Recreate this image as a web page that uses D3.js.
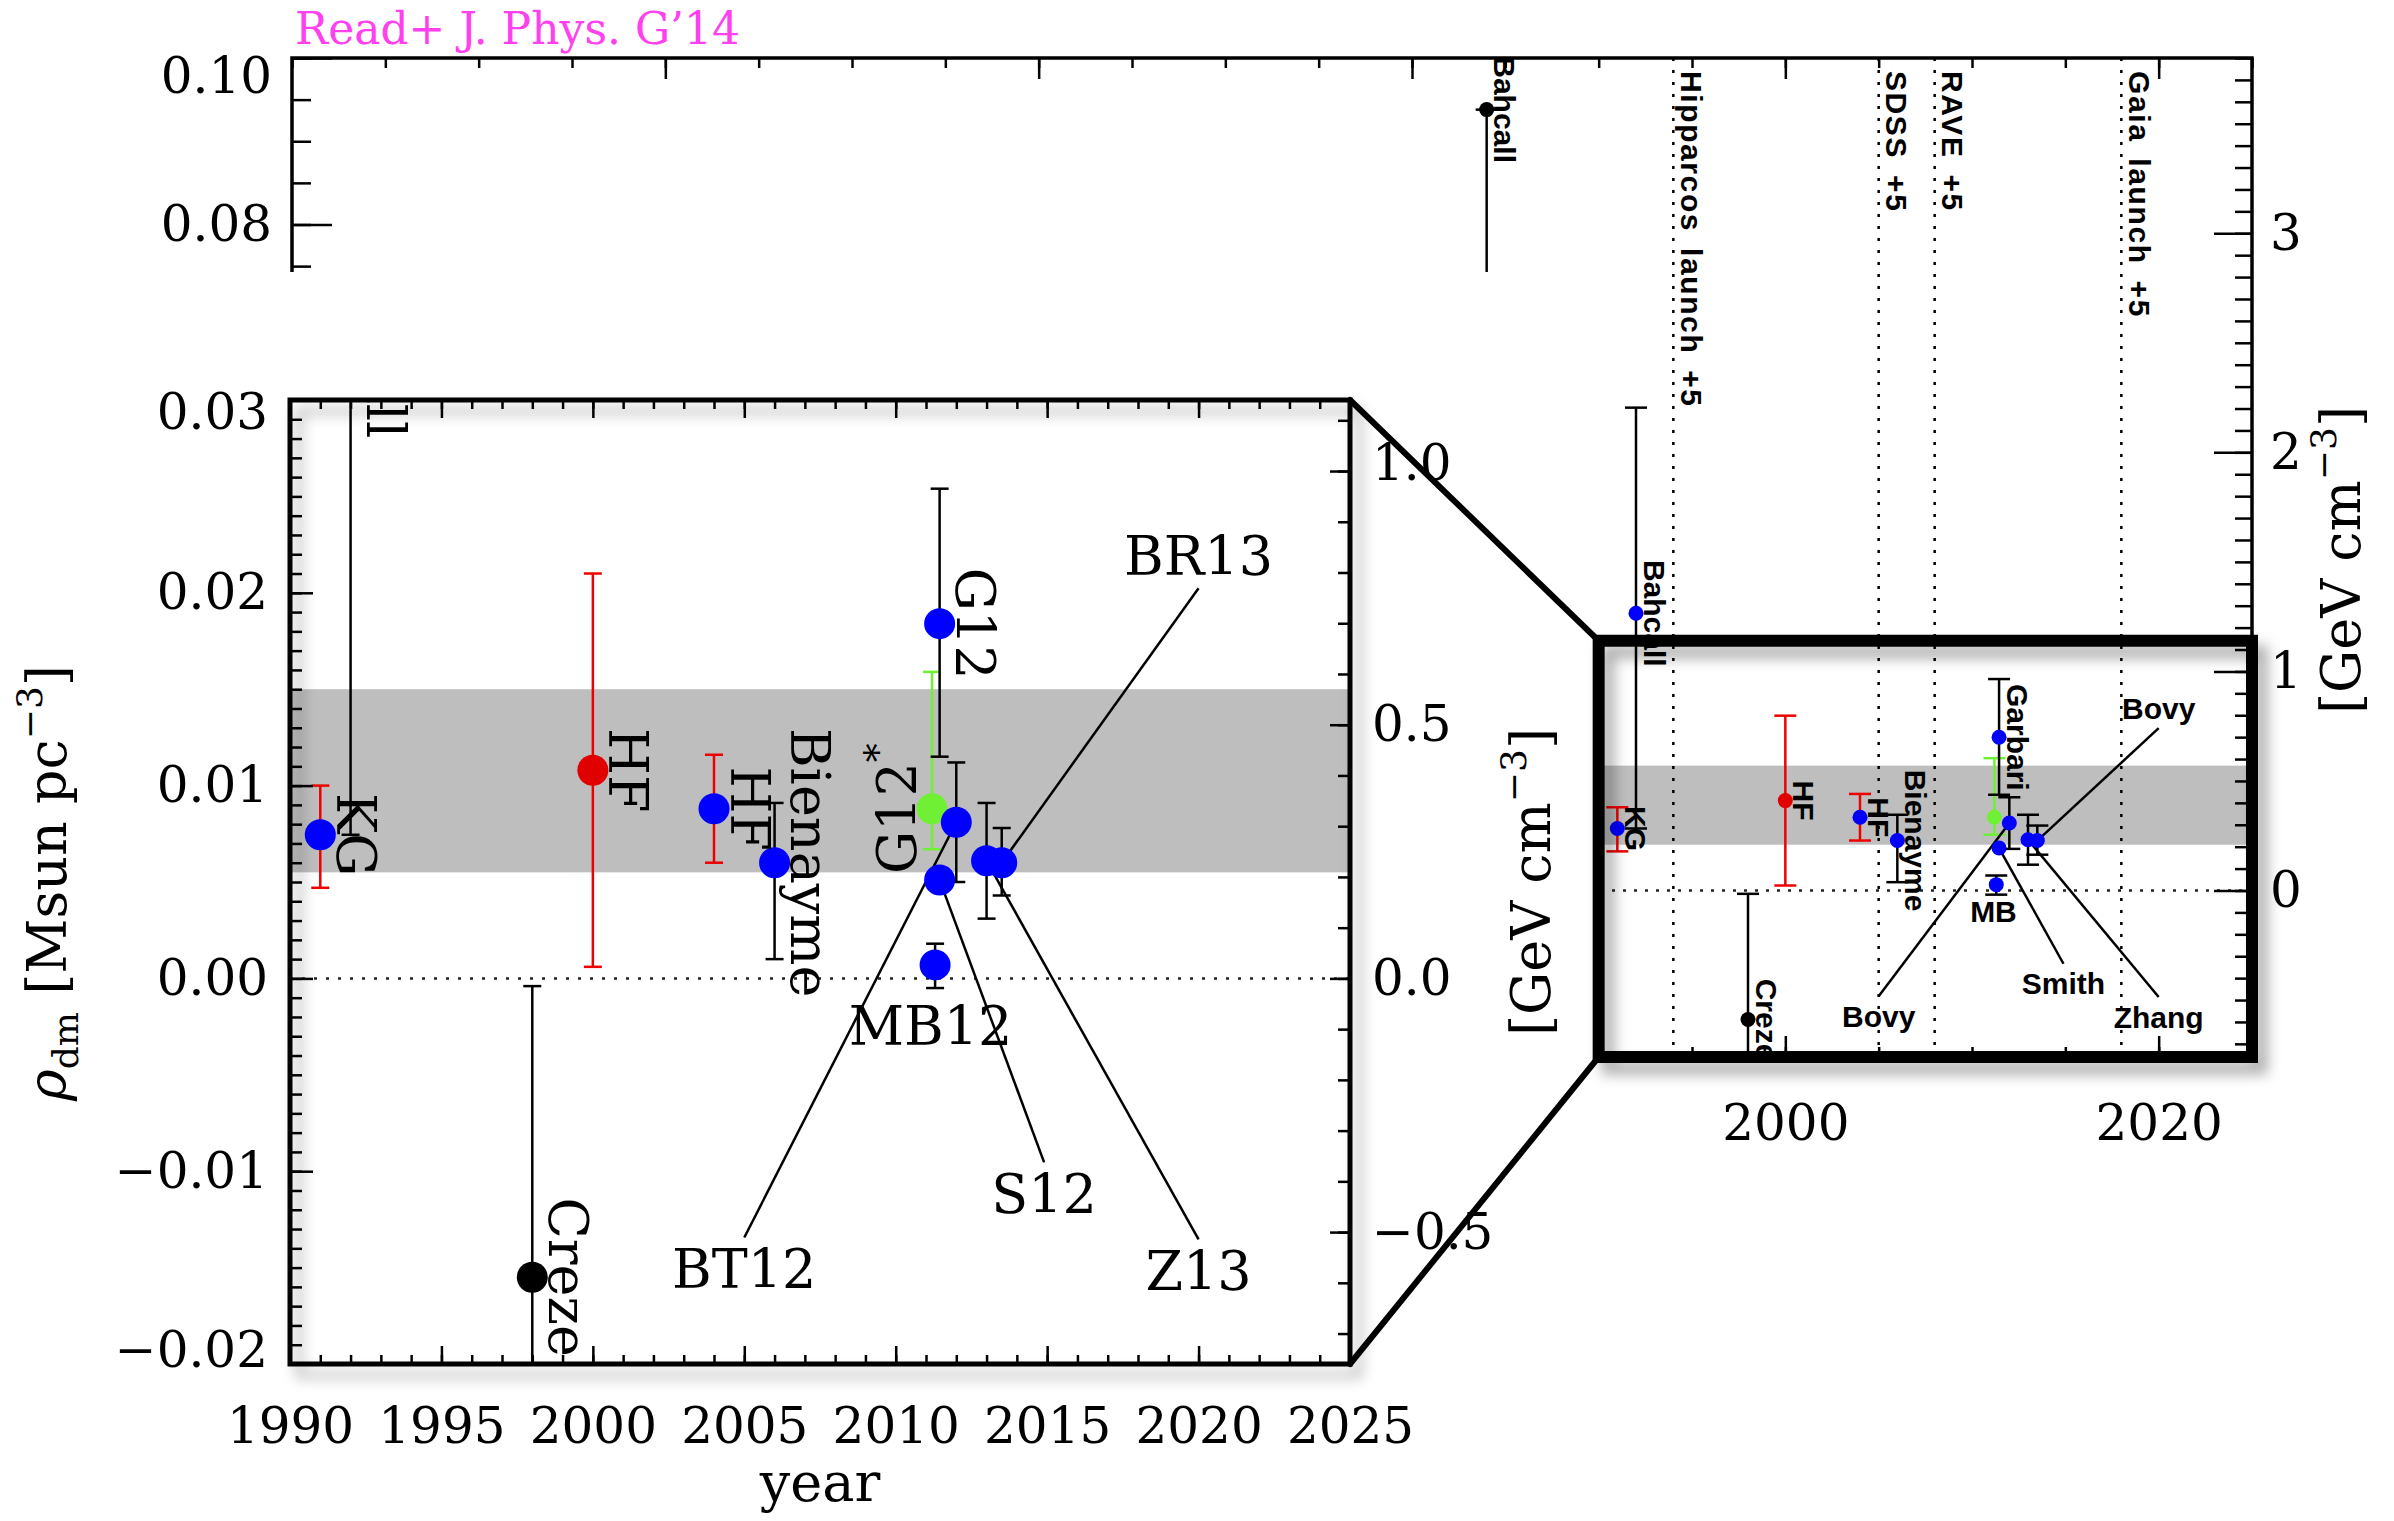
<!DOCTYPE html>
<html>
<head>
<meta charset="utf-8">
<script src="https://cdn.jsdelivr.net/npm/d3@7"></script>
<style>
  body { margin: 0; background: #fff; }
  svg { display: block; }
</style>
</head>
<body>
<div id="container"></div>
<script>
// local dark matter density measurements, Msun pc^-3
let names  = ["Bahcall84","KG","Bahcall92","Creze","HF00","HF04","Bienayme","G12star","G12","MB12","S12","BT12","Z13","BR13"];
let years  = [1984, 1991, 1992, 1998, 2000, 2004, 2006, 2011.2, 2011.45, 2011.3, 2011.45, 2012, 2013, 2013.5];
let rho    = [0.0938, 0.00745, 0.0333, -0.0155, 0.0108, 0.0088, 0.0060, 0.0088, 0.0184, 0.0007, 0.0051, 0.0081, 0.0061, 0.0060];
let rhoLo  = [0.060, 0.0047, 0.00745, -0.030, 0.0006, 0.0060, 0.0010, 0.0067, 0.0115, -0.0005, null, 0.0050, 0.0031, 0.0043];
let rhoHi  = [0.0938, 0.0100, 0.058, -0.0004, 0.0210, 0.0116, 0.0091, 0.0159, 0.0254, 0.0018, null, 0.0112, 0.0091, 0.0078];
let dotCol = ["#000","#0000ff","#0000ff","#000","#e00000","#0000ff","#0000ff","#70f034","#0000ff","#0000ff","#0000ff","#0000ff","#0000ff","#0000ff"];
let barCol = ["#000","#ee0000","#000","#000","#ee0000","#ee0000","#000","#70f034","#000","#000",null,"#000","#000","#000"];

// labels written next to the points (rotated), zoomed panel / small inset
let tagInner = [null,"KG","Bahcall","Creze","HF","HF","Bienayme","G12","G12",null,null,null,null,null];
let tagOuter = ["Bahcall","KG","Bahcall","Creze","HF","HF","Bienayme",null,"Garbari",null,null,null,null,null];
let tagSide  = ["r","r","r","r","r","r","r","l","r","r","r","r","r","r"];

// free standing labels (year, rho) with the point they point at
let freeInner = ["BR13","BT12","S12","Z13","MB12"];
let freeOuter = ["Bovy","Bovy","Smith","Zhang","MB"];
let freeYear  = [2020.0, 2005.0, 2014.9, 2020.0, 2011.15];
let freeRho   = [0.0219, -0.0151, -0.0112, -0.0152, -0.0025];
let freeTo    = ["BR13","BT12","S12","Z13",null];

// survey epochs
let surveyNames = ["Hipparcos launch +5","SDSS +5","RAVE +5","Gaia launch +5"];
let surveyYears = [1994, 2005, 2008, 2018];

// shaded band
let band = [0.0055, 0.0150];
let gevPerMsun = 38.0;

let serif = "'DejaVu Serif', serif";
let sans = "'Liberation Sans', Arial, sans-serif";

let w = 2394, h = 1521;
let svg = d3.select("#container").append("svg").attr("width", w).attr("height", h);

let defs = svg.append("defs");
let f1 = defs.append("filter").attr("id","shadow").attr("x","-10%").attr("y","-10%").attr("width","130%").attr("height","130%");
f1.append("feDropShadow").attr("dx",9).attr("dy",11).attr("stdDeviation",7).attr("flood-color","#000").attr("flood-opacity",0.35);

// scales
let xOut = d3.scaleLinear().domain([1920, 2025]).range([292, 2252]);
let yOut = d3.scaleLinear().domain([-0.02, 0.10]).range([1057, 58]);
let xIn = d3.scaleLinear().domain([1990, 2025]).range([290, 1350]);
let yIn = d3.scaleLinear().domain([-0.02, 0.03]).range([1364, 400]);

defs.append("clipPath").attr("id","clipOut").append("rect")
  .attr("x",xOut.range()[0]).attr("y",yOut.range()[1])
  .attr("width",xOut.range()[1]-xOut.range()[0]).attr("height",yOut.range()[0]-yOut.range()[1]);
defs.append("clipPath").attr("id","clipIn").append("rect")
  .attr("x",xIn.range()[0]).attr("y",yIn.range()[1])
  .attr("width",xIn.range()[1]-xIn.range()[0]).attr("height",yIn.range()[0]-yIn.range()[1]);

// inward ticks; labelled only when a format is given
function inward(g, axisFn, scale, values, len, fmt, pad, labelled) {
  let ax = axisFn(scale).tickValues(values).tickSize(-len).tickPadding(pad || 0).tickFormat(fmt || (() => ""));
  g.call(ax);
  g.select(".domain").remove();
  g.attr("font-family", serif).attr("font-size", 50);
  g.selectAll("line").attr("stroke","#000").attr("stroke-width",2.5);
  g.selectAll("text").attr("fill","#000");
  g.selectAll(".tick").filter(d => !fmt || (labelled && labelled.indexOf(d) < 0)).select("text").remove();
  return g;
}
function nudge(g, value, dy) {
  g.selectAll(".tick").filter(d => Math.abs(d - value) < 1e-9).select("text").attr("y", dy);
}

function gevScale(y) {
  return d3.scaleLinear().domain(y.domain().map(v => v * gevPerMsun)).range(y.range());
}

// draws all data marks in one panel
function drawPanel(g, x, y, o) {
  let x0 = x.range()[0], x1 = x.range()[1];
  g.append("rect").attr("x",x0).attr("width",x1-x0)
    .attr("y",y(band[1])).attr("height",y(band[0])-y(band[1])).attr("fill","#bebebe");
  g.append("line").attr("x1",x0).attr("x2",x1).attr("y1",y(0)).attr("y2",y(0))
    .attr("stroke","#222").attr("stroke-width",2.5).attr("stroke-dasharray",o.dash);
  (o.surveys || []).forEach((s, i) => {
    let sx = x(surveyYears[i]);
    g.append("line").attr("x1",sx).attr("x2",sx).attr("y1",y.range()[1]).attr("y2",y.range()[0])
      .attr("stroke","#000").attr("stroke-width",2.5).attr("stroke-dasharray","3,9");
    g.append("text").attr("transform",`translate(${sx+18},${y.range()[1]+13}) rotate(90)`)
      .attr("dominant-baseline","central").attr("font-family",sans).attr("font-weight","bold")
      .attr("font-size",30).attr("letter-spacing",1.6).attr("word-spacing",6).text(s);
  });
  // error bars
  names.forEach((n, i) => {
    if (rhoLo[i] == null) return;
    let px = x(years[i]);
    let eg = g.append("g").attr("stroke",barCol[i]).attr("stroke-width",o.sw);
    eg.append("line").attr("x1",px).attr("x2",px).attr("y1",y(rhoLo[i])).attr("y2",y(rhoHi[i]));
    [rhoLo[i], rhoHi[i]].forEach(v => {
      eg.append("line").attr("x1",px-o.cap).attr("x2",px+o.cap).attr("y1",y(v)).attr("y2",y(v));
    });
  });
  // leader lines
  freeTo.forEach((t, k) => {
    if (!t) return;
    let i = names.indexOf(t);
    let lx = x(freeYear[k]), ly = y(freeRho[k]);
    let py = y(rho[i]);
    let off = (py < ly ? -1 : 1) * o.lead;
    g.append("line").attr("x1",lx).attr("y1",ly+off).attr("x2",x(years[i])).attr("y2",py)
      .attr("stroke","#000").attr("stroke-width",o.sw);
  });
  // points
  g.selectAll("circle.pt").data(names).enter().append("circle").attr("class","pt")
    .attr("cx",(d,i) => x(years[i])).attr("cy",(d,i) => y(rho[i]))
    .attr("r",o.r).attr("fill",(d,i) => dotCol[i]);
  // rotated tags
  o.tags.forEach((t, i) => {
    if (!t) return;
    let px = x(years[i]), py = y(rho[i]);
    let side = tagSide[i] == "l" ? -1 : 1;
    let txt = g.append("text")
      .attr("transform",`translate(${px+side*o.dx},${py}) rotate(${side*90})`)
      .attr("text-anchor","middle").attr("dominant-baseline","central")
      .attr("font-family",o.font).attr("font-weight",o.weight).attr("font-size",o.fsize).text(t);
    if (names[i] == "G12star") txt.append("tspan").attr("dy",-o.fsize*0.35).attr("font-size",o.fsize*0.7).text("*");
  });
  // free labels
  o.free.forEach((t, k) => {
    g.append("text").attr("x",x(freeYear[k])).attr("y",y(freeRho[k]))
      .attr("text-anchor","middle").attr("dominant-baseline","central")
      .attr("font-family",o.font).attr("font-weight",o.weight).attr("font-size",o.fsize).text(t);
  });
}

// ---------- big outer panel ----------
let outG = svg.append("g").attr("clip-path","url(#clipOut)");
drawPanel(outG, xOut, yOut, {r:7.5, cap:11, sw:2.5, dash:"3,8", lead:20, dx:18,
  font:sans, weight:"bold", fsize:30, tags:tagOuter, free:freeOuter, surveys:surveyNames});

let fmtD = d3.format("d");
let yOutG = gevScale(yOut);
inward(svg.append("g").attr("transform",`translate(0,${yOut.range()[1]})`), d3.axisTop, xOut, d3.range(1920, 2026, 5), 10);
inward(svg.append("g").attr("transform",`translate(0,${yOut.range()[1]})`), d3.axisTop, xOut, [1940,1960,1980,2000,2020], 21);
inward(svg.append("g").attr("transform",`translate(0,${yOut.range()[0]})`), d3.axisBottom, xOut, d3.range(1920, 2026, 5), 10);
inward(svg.append("g").attr("transform",`translate(0,${yOut.range()[0]})`), d3.axisBottom, xOut, [1940,1960,1980,2000,2020], 21, fmtD, 47, [2000, 2020]);
inward(svg.append("g").attr("transform",`translate(${xOut.range()[0]},0)`), d3.axisLeft, yOut, d3.range(-4, 21).map(k => k*0.005), 19);
let outLeft = inward(svg.append("g").attr("transform",`translate(${xOut.range()[0]},0)`), d3.axisLeft, yOut,
  d3.range(-1, 6).map(k => k*0.02), 40, d3.format(".2f"), 20, [0.08, 0.1]);
nudge(outLeft, 0.1, 18);
inward(svg.append("g").attr("transform",`translate(${xOut.range()[1]},0)`), d3.axisRight, yOutG, d3.range(-7, 39).map(k => k/10), 17);
inward(svg.append("g").attr("transform",`translate(${xOut.range()[1]},0)`), d3.axisRight, yOutG, [0,1,2,3], 38, fmtD, 18);
svg.append("rect").attr("x",xOut.range()[0]).attr("y",yOut.range()[1])
  .attr("width",xOut.range()[1]-xOut.range()[0]).attr("height",yOut.range()[0]-yOut.range()[1])
  .attr("fill","none").attr("stroke","#000").attr("stroke-width",3.5);

// white sheet under the zoomed panel
svg.append("rect").attr("x",0).attr("y",272).attr("width",xOut(1990)-3).attr("height",h-272).attr("fill","#fff");

// inset frame on the outer panel
svg.append("rect").attr("x",xOut(1990)).attr("y",yOut(0.03))
  .attr("width",xOut(2025)-xOut(1990)).attr("height",yOut(-0.02)-yOut(0.03))
  .attr("fill","none").attr("stroke","#000").attr("stroke-width",12).attr("filter","url(#shadow)");

// ---------- zoomed panel ----------
let inG = svg.append("g").attr("clip-path","url(#clipIn)");
drawPanel(inG, xIn, yIn, {r:15.5, cap:9, sw:2.5, dash:"3,9", lead:32, dx:35,
  font:serif, weight:"normal", fsize:54, tags:tagInner, free:freeInner});

let yInG = gevScale(yIn);
inward(svg.append("g").attr("transform",`translate(0,${yIn.range()[1]})`), d3.axisTop, xIn, d3.range(1990, 2026), 9);
inward(svg.append("g").attr("transform",`translate(0,${yIn.range()[1]})`), d3.axisTop, xIn, d3.range(1990, 2026, 5), 18);
inward(svg.append("g").attr("transform",`translate(0,${yIn.range()[0]})`), d3.axisBottom, xIn, d3.range(1990, 2026), 9);
inward(svg.append("g").attr("transform",`translate(0,${yIn.range()[0]})`), d3.axisBottom, xIn, d3.range(1990, 2026, 5), 18, fmtD, 43);
inward(svg.append("g").attr("transform",`translate(${xIn.range()[0]},0)`), d3.axisLeft, yIn, d3.range(-20, 31).map(k => k/1000), 12);
let inLeft = inward(svg.append("g").attr("transform",`translate(${xIn.range()[0]},0)`), d3.axisLeft, yIn,
  d3.range(-2, 4).map(k => k/100), 23, d3.format(".2f"), 22);
nudge(inLeft, 0.03, 12);
nudge(inLeft, -0.02, -14);
inward(svg.append("g").attr("transform",`translate(${xIn.range()[1]},0)`), d3.axisRight, yInG, d3.range(-7, 12).map(k => k/10), 12);
let inRight = inward(svg.append("g").attr("transform",`translate(${xIn.range()[1]},0)`), d3.axisRight, yInG,
  [-0.5, 0, 0.5, 1.0], 20, d3.format(".1f"), 22);
nudge(inRight, 1.0, -8);
svg.append("rect").attr("x",xIn.range()[0]).attr("y",yIn.range()[1])
  .attr("width",xIn.range()[1]-xIn.range()[0]).attr("height",yIn.range()[0]-yIn.range()[1])
  .attr("fill","none").attr("stroke","#000").attr("stroke-width",5).attr("filter","url(#shadow)");

// connectors from zoomed panel to inset
[0.03, -0.02].forEach(v => {
  svg.append("line").attr("x1",xIn(2025)).attr("y1",yIn(v)).attr("x2",xOut(1990)).attr("y2",yOut(v))
    .attr("stroke","#000").attr("stroke-width",6).attr("stroke-linecap","round");
});

// ---------- titles ----------
svg.append("text").attr("x",295).attr("y",44).attr("font-family",serif).attr("font-size",44)
  .attr("fill","#ff40ee").text("Read+ J. Phys. G\u201914");

let yt = svg.append("text").attr("transform","translate(66,883) rotate(-90)").attr("text-anchor","middle")
  .attr("font-family",serif).attr("font-size",54);
yt.append("tspan").attr("font-style","italic").text("\u03c1");
yt.append("tspan").attr("font-size",36).attr("dy",12).text("dm");
yt.append("tspan").attr("dy",-12).text(" [Msun pc");
yt.append("tspan").attr("font-size",36).attr("dy",-24).text("\u22123");
yt.append("tspan").attr("dy",24).text("]");

function gevTitle(x, y) {
  let t = svg.append("text").attr("transform",`translate(${x},${y}) rotate(-90)`).attr("text-anchor","middle")
    .attr("font-family",serif).attr("font-size",54);
  t.append("tspan").text("[GeV cm");
  t.append("tspan").attr("font-size",36).attr("dy",-24).text("\u22123");
  t.append("tspan").attr("dy",24).text("]");
}
gevTitle(1550, 882);
gevTitle(2360, 560);

svg.append("text").attr("x",(xIn.range()[0]+xIn.range()[1])/2).attr("y",1482)
  .attr("text-anchor","middle").attr("dominant-baseline","central")
  .attr("font-family",serif).attr("font-size",54).text("year");
</script>
</body>
</html>
